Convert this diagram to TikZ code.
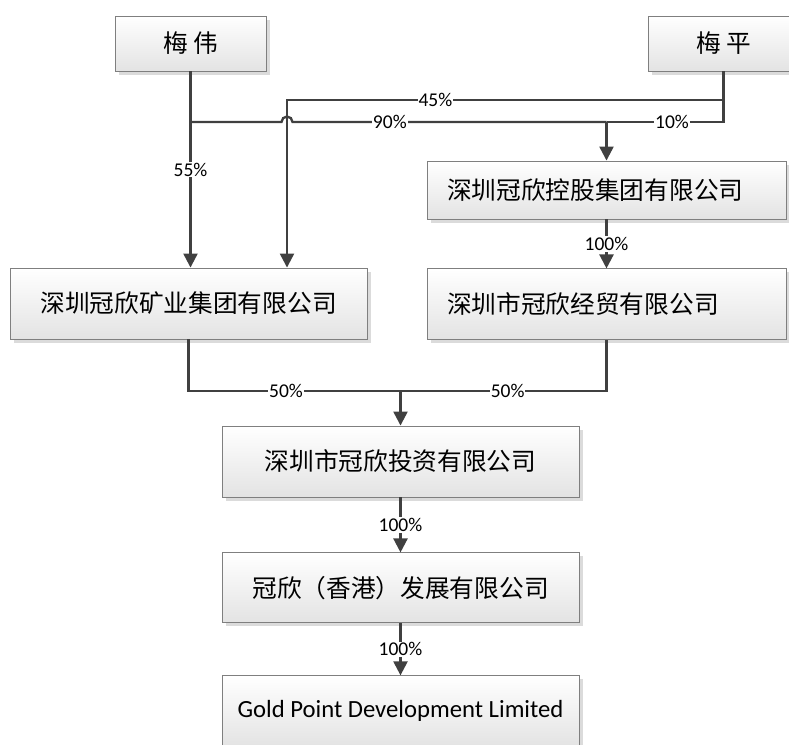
\documentclass[tikz,border=0pt]{standalone}
\usepackage{fontspec}
\setmainfont{Carlito}
\newfontfamily\cjk{Noto Sans CJK SC}
\usepackage{xcolor}
\usetikzlibrary{arrows.meta,positioning,shadows}
\definecolor{linegray}{HTML}{404040}
\definecolor{boxedge}{HTML}{7F7F7F}
\definecolor{boxbot}{HTML}{E3E3E3}

\begin{document}
\begin{tikzpicture}[
  x=1pt, y=-1pt,
  font=\fontsize{24.7}{28}\selectfont,
  box/.style={rectangle, draw=boxedge, line width=0.9pt, top color=white,
              bottom color=boxbot, inner sep=0pt, align=center,
              minimum width=357pt, minimum height=71pt,
              drop shadow={shadow xshift=3.5pt, shadow yshift=-3.5pt,
                           fill=black!14, opacity=1}},
  person/.style={box, minimum width=151pt, minimum height=55pt},
  leftbox/.style={box, text width=319pt, inner xsep=20pt, align=left},
  conn/.style={line width=2.3pt, linegray},
  arr/.style={conn, -{Triangle[length=14pt, width=14pt]}},
  lab/.style={font=\fontsize{19.5}{20}\selectfont, text=black, fill=white,
              inner sep=1pt},
  node distance=54pt]

\useasboundingbox (0,0) rectangle (789,744);

\node[person] (mw) at (190.5,43.5) {\cjk 梅 伟};
\node[person] (mp) at (723.5,43.5) {\cjk 梅 平};
\node[leftbox, minimum height=58pt] (kg) at (606.5,190) {\cjk 深圳冠欣控股集团有限公司};
\node[box] (ky) at (188.5,303.5) {\cjk 深圳冠欣矿业集团有限公司};
\node[leftbox, below=49pt of kg] (jm) {\cjk 深圳市冠欣经贸有限公司};
\node[box] (tz) at (400.5,461.5) {\cjk 深圳市冠欣投资有限公司};
\node[box, below=55pt of tz, minimum height=70pt] (hk) {\cjk 冠欣（香港）发展有限公司};
\node[box, below=52pt of hk] (gp) {Gold Point Development Limited};

\coordinate (j45) at (287,100);
\coordinate (j90) at (606.5,122);
\coordinate (j50) at (400.5,391);
\coordinate (hop) at (j45 |- j90);

% owners
\draw[arr] (mw.south) -- node[lab] {55\%} (mw.south |- ky.north);
\draw[arr] (mp.south) |- node[lab, pos=.83] {45\%} (j45) -- (j45 |- ky.north);
\draw[conn] (mw.south |- j90) -- ([xshift=-5.5pt]hop)
  arc[start angle=180, end angle=0, radius=5.5pt]
  -- node[lab, pos=.31] {90\%} (j90);
\draw[conn] (mp.south) |- node[lab, pos=.72] {10\%} (j90);
\draw[arr] (j90) -- (kg.north);
\draw[arr] (kg) -- node[lab] {100\%} (jm);

% merge
\draw[conn] (ky.south) |- node[lab, pos=.73] {50\%} (j50);
\draw[conn] (jm.south) |- node[lab, pos=.74] {50\%} (j50);
\draw[arr] (j50) -- (tz.north);
\draw[arr] (tz) -- node[lab] {100\%} (hk);
\draw[arr] (hk) -- node[lab] {100\%} (gp);
\end{tikzpicture}
\end{document}
